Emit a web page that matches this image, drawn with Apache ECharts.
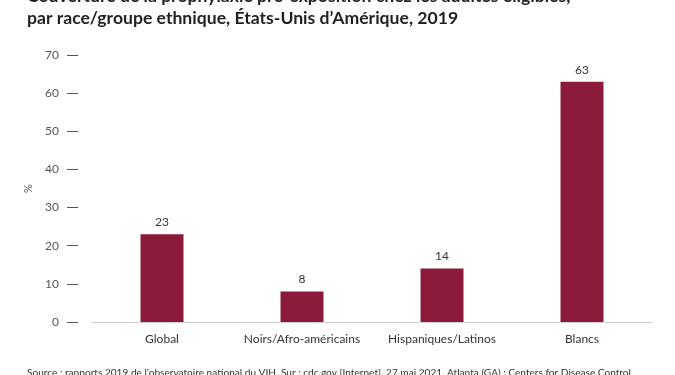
<!DOCTYPE html>
<html>
<head>
<meta charset="utf-8">
<script src="https://cdn.jsdelivr.net/npm/echarts@6/dist/echarts.min.js"></script>
<style>
  html, body { margin: 0; padding: 0; background: #fff; }
</style>
</head>
<body>
<div id="chart" style="width:675px;height:375px;"></div>
<script>
  // données
  var categories = ['Global', 'Noirs/Afro-américains', 'Hispaniques/Latinos', 'Blancs'];
  var values = [23, 8, 14, 63];
  var titleLines = [
    'Couverture de la prophylaxie pré-exposition chez les adultes éligibles,',
    'par race/groupe ethnique, États-Unis d\u2019Amérique, 2019'
  ];
  var sourceText = 'Source : rapports 2019 de l\u2019observatoire national du VIH. Sur : cdc.gov [Internet]. 27 mai 2021. Atlanta (GA) : Centers for Disease Control';

  var myChart = echarts.init(document.getElementById('chart'));
  myChart.setOption({
    textStyle: { fontFamily: 'Lato' },
    title: [
      {
        text: titleLines.join('\n'),
        left: 22,
        top: -20,
        textStyle: { fontSize: 17.6, fontWeight: 'bold', color: '#231f20', lineHeight: 22, fontFamily: 'Lato' }
      },
      {
        text: sourceText,
        left: 22,
        top: 363,
        textStyle: { fontSize: 10.1, fontWeight: 'normal', color: '#333', fontFamily: 'Lato' }
      }
    ],
    grid: { left: 92, right: 23, top: 55, bottom: 53 },
    xAxis: {
      type: 'category',
      data: categories,
      axisLine: { show: true, lineStyle: { color: '#cfcfcf', width: 1 } },
      axisTick: { show: false },
      axisLabel: { color: '#333', fontSize: 12, margin: 11, interval: 0 }
    },
    yAxis: {
      type: 'value',
      min: 0,
      max: 70,
      interval: 10,
      offset: 14,
      name: '%',
      nameLocation: 'middle',
      nameGap: 44,
      nameRotate: 90,
      nameTextStyle: { color: '#555', fontSize: 11 },
      axisLine: { show: false },
      axisTick: { show: true, length: 11, lineStyle: { color: '#555' } },
      axisLabel: { color: '#555', fontSize: 12, margin: 19 },
      splitLine: { show: false }
    },
    series: [
      {
        type: 'bar',
        data: values,
        barWidth: 43,
        itemStyle: { color: '#8c1a3b' },
        label: { show: true, position: 'top', color: '#333', fontSize: 12, distance: 6 }
      }
    ]
  });
</script>
</body>
</html>
